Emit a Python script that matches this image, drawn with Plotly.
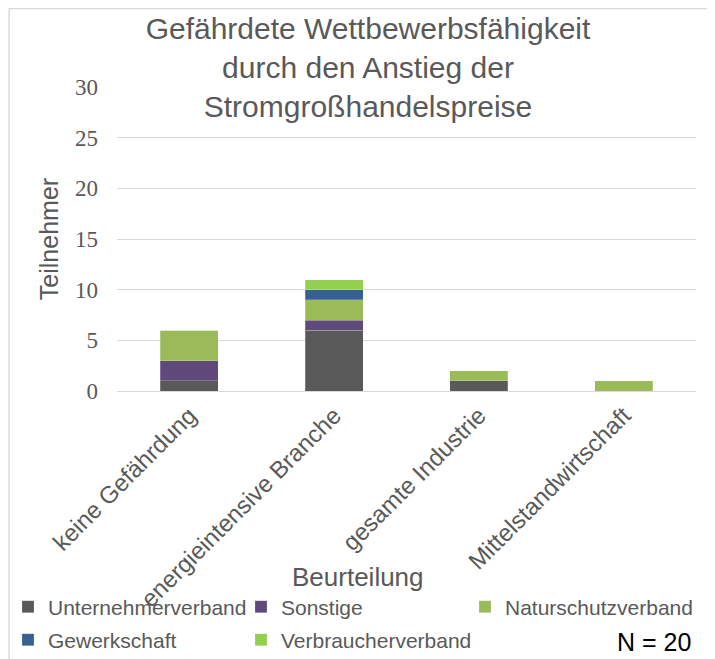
import plotly.graph_objects as go

# Categories (Beurteilung) and counts per participant group
categories = [
    "keine Gefährdung",
    "energieintensive Branche",
    "gesamte Industrie",
    "Mittelstandwirtschaft",
]
unternehmerverband = [1, 6, 1, 0]
sonstige = [2, 1, 0, 0]
naturschutzverband = [3, 2, 1, 1]
gewerkschaft = [0, 1, 0, 0]
verbraucherverband = [0, 1, 0, 0]

y_ticks = [0, 5, 10, 15, 20, 25, 30]

series = [
    ("Unternehmerverband", unternehmerverband, "#595959", "legend"),
    ("Sonstige", sonstige, "#604a7b", "legend"),
    ("Naturschutzverband", naturschutzverband, "#9bbb59", "legend3"),
    ("Gewerkschaft", gewerkschaft, "#366092", "legend2"),
    ("Verbraucherverband", verbraucherverband, "#92d050", "legend2"),
]

grey = "#595959"
sans = "Liberation Sans"

# the page adds an 8px body margin, so the figure is a bit smaller than the window
W, H = 707, 651
ml, mr, mt, mb = 108.5, 19, 79, 268
pw, ph = W - ml - mr, H - mt - mb


def px_x(p):
    return (p - ml) / pw


def px_y(p):
    return (H - mb - p) / ph


fig = go.Figure()
for name, vals, color, leg in series:
    fig.add_trace(
        go.Bar(
            x=categories,
            y=vals,
            name=name,
            legend=leg,
            marker=dict(color=color, line=dict(width=0.6, color="rgba(255,255,255,0.35)")),
        )
    )

legend_common = dict(
    orientation="h",
    xref="container",
    yref="container",
    x=-5 / W,
    xanchor="left",
    yanchor="middle",
    entrywidth=188,
    entrywidthmode="pixels",
    traceorder="normal",
    font=dict(family=sans, size=21, color=grey),
    bgcolor="rgba(0,0,0,0)",
)

fig.update_layout(
    width=W,
    height=H,
    barmode="stack",
    bargap=0.6,
    margin=dict(l=ml, r=mr, t=mt, b=mb, autoexpand=False),
    paper_bgcolor="white",
    plot_bgcolor="white",
    font=dict(family=sans, color=grey),
    title=dict(
        text="Gefährdete Wettbewerbsfähigkeit<br>durch den Anstieg der<br>Stromgroßhandelspreise",
        font=dict(family=sans, size=30, color=grey),
        xref="container",
        yref="container",
        x=360 / W,
        xanchor="center",
        y=1 - 31 / H,
        yanchor="top",
    ),
    xaxis=dict(
        tickangle=-45,
        tickfont=dict(family=sans, size=24, color=grey),
        showline=True,
        linecolor="#d9d9d9",
        linewidth=1,
        showgrid=False,
        ticks="",
        automargin=False,
    ),
    yaxis=dict(
        range=[0, 30],
        tickvals=y_ticks,
        tickfont=dict(family="Liberation Serif", size=23, color=grey),
        showgrid=True,
        gridcolor="#d9d9d9",
        gridwidth=1,
        zeroline=False,
        ticks="",
        ticklabelstandoff=18,
        title=dict(text="Teilnehmer", font=dict(family=sans, size=25, color=grey), standoff=9),
        automargin=False,
    ),
    legend=dict(legend_common, y=1 - 599 / H),
    legend2=dict(legend_common, y=1 - 632 / H),
    legend3=dict(legend_common, x=457 / W, y=1 - 599 / H),
    annotations=[
        dict(
            text="Beurteilung",
            xref="paper",
            yref="paper",
            x=px_x(350),
            y=px_y(569),
            xanchor="center",
            yanchor="middle",
            showarrow=False,
            font=dict(family=sans, size=26, color=grey),
        ),
        dict(
            text="N = 20",
            xref="paper",
            yref="paper",
            x=px_x(646),
            y=px_y(634),
            xanchor="center",
            yanchor="middle",
            showarrow=False,
            font=dict(family=sans, size=25, color="black"),
        ),
    ],
    shapes=[
        # outer chart border (left and top edges)
        dict(type="line", xref="paper", yref="paper",
             x0=px_x(0.5), x1=px_x(0.5), y0=px_y(H), y1=px_y(0.5),
             line=dict(color="#d9d9d9", width=1.5)),
        dict(type="line", xref="paper", yref="paper",
             x0=px_x(0.5), x1=px_x(W), y0=px_y(0.5), y1=px_y(0.5),
             line=dict(color="#d9d9d9", width=1.5)),
    ],
)

fig.write_html("out.html")
